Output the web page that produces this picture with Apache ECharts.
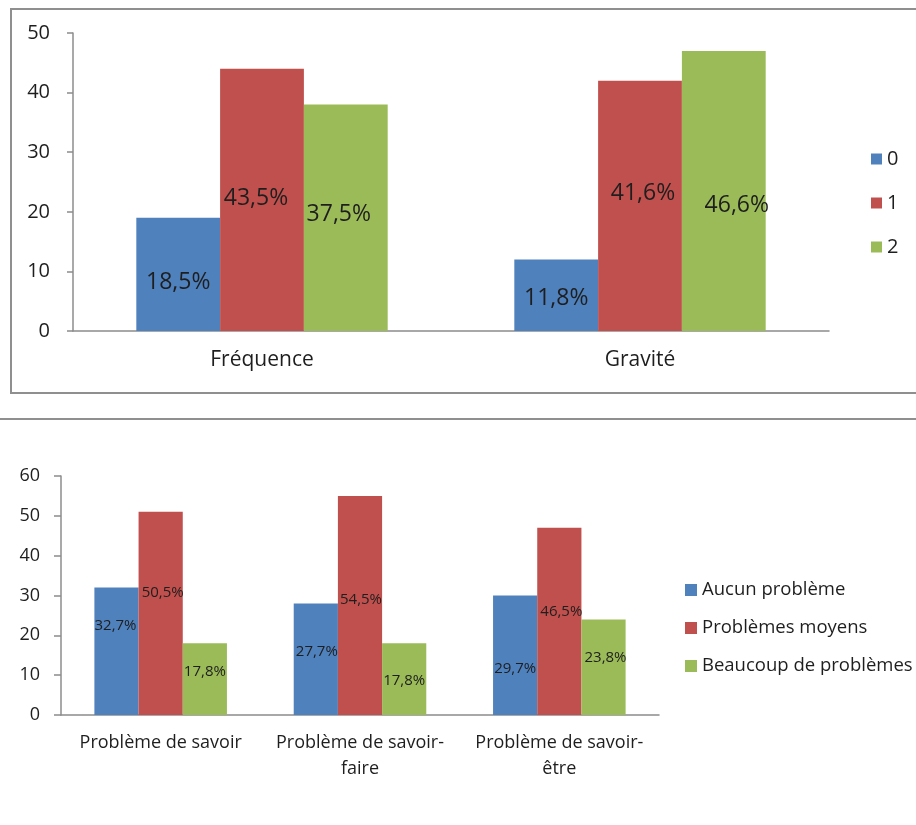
<!DOCTYPE html>
<html>
<head>
<meta charset="utf-8">
<script src="https://cdn.jsdelivr.net/npm/echarts@6/dist/echarts.min.js"></script>
<style>
html,body{margin:0;padding:0;background:#fff;}
#c{width:916px;height:825px;}
</style>
</head>
<body>
<div id="c"></div>
<script>
// ---- Top chart data ----
const topCategories = ['Fréquence', 'Gravité'];
const topSeriesNames = ['0', '1', '2'];
const topValues0 = [19, 12];
const topValues1 = [44, 42];
const topValues2 = [38, 47];
const topLabels0 = ['18,5%', '11,8%'];
const topLabels1 = ['43,5%', '41,6%'];
const topLabels2 = ['37,5%', '46,6%'];
const topYTicks = [0, 10, 20, 30, 40, 50];

// ---- Bottom chart data ----
const botCategories = ['Problème de savoir', 'Problème de savoir-faire', 'Problème de savoir-être'];
const botSeriesNames = ['Aucun problème', 'Problèmes moyens', 'Beaucoup de problèmes'];
const botValues0 = [32, 28, 30];
const botValues1 = [51, 55, 47];
const botValues2 = [18, 18, 24];
const botLabels0 = ['32,7%', '27,7%', '29,7%'];
const botLabels1 = ['50,5%', '54,5%', '46,5%'];
const botLabels2 = ['17,8%', '17,8%', '23,8%'];
const botYTicks = [0, 10, 20, 30, 40, 50, 60];

const colors = ['#4F81BD', '#C0504D', '#9BBB59'];
const FONT = '"Open Sans", "Noto Sans", sans-serif';
const AXIS = '#8c8c8c';

// label placement tweaks (style, not data)
const topOffsets = [
  [[0, 8], [0, 3]],
  [[-6, -1], [3, -12]],
  [[-7, -3], [13, 15]]
];
const botOffsets = [
  [[-1, -26], [1, -7], [0, 13]],
  [[2, -21], [1, -6], [2, -10]],
  [[0, -7], [0, 2], [2, -9]]
];

function makeSeries(names, valuesList, labelsList, offsets, xi, fontSize) {
  return names.map((n, si) => ({
    name: n,
    type: 'bar',
    xAxisIndex: xi,
    yAxisIndex: xi,
    barGap: '0%',
    barCategoryGap: '33.5%',
    itemStyle: { color: colors[si] },
    data: valuesList[si].map((v, i) => ({
      value: v,
      label: {
        show: true,
        position: 'inside',
        formatter: labelsList[si][i],
        offset: offsets[si][i],
        color: '#1e1e1e',
        fontSize: fontSize,
        fontFamily: FONT
      }
    }))
  }));
}

const chart = echarts.init(document.getElementById('c'), null, { renderer: 'canvas' });

const option = {
  animation: false,
  backgroundColor: '#ffffff',
  graphic: [
    {
      type: 'rect',
      shape: { x: 11, y: 9, width: 920, height: 384 },
      style: { fill: 'none', stroke: '#8f8f8f', lineWidth: 2 },
      silent: true
    },
    {
      type: 'line',
      shape: { x1: 0, y1: 419, x2: 916, y2: 419 },
      style: { stroke: '#8f8f8f', lineWidth: 2 },
      silent: true
    }
  ],
  grid: [
    { left: 73, top: 33, width: 756, height: 298 },
    { left: 61, top: 476, width: 598, height: 239 }
  ],
  legend: [
    {
      data: topSeriesNames,
      orient: 'vertical',
      left: 866,
      top: 143,
      itemWidth: 11,
      itemHeight: 11,
      itemGap: 22,
      icon: 'rect',
      textStyle: { fontSize: 20, lineHeight: 22, color: '#1e1e1e', fontFamily: FONT }
    },
    {
      data: botSeriesNames,
      orient: 'vertical',
      left: 680,
      top: 575,
      itemWidth: 12,
      itemHeight: 12,
      itemGap: 18,
      icon: 'rect',
      textStyle: { fontSize: 18.5, lineHeight: 20, color: '#1e1e1e', fontFamily: FONT }
    }
  ],
  xAxis: [
    {
      type: 'category',
      gridIndex: 0,
      data: topCategories,
      axisLine: { lineStyle: { color: AXIS, width: 1.5 } },
      axisTick: { length: 6, lineStyle: { color: AXIS, width: 1.5 } },
      axisLabel: { fontSize: 21, color: '#1e1e1e', fontFamily: FONT, margin: 19, interval: 0 }
    },
    {
      type: 'category',
      gridIndex: 1,
      data: botCategories,
      axisLine: { lineStyle: { color: AXIS, width: 1.5 } },
      axisTick: { length: 6, lineStyle: { color: AXIS, width: 1.5 } },
      axisLabel: {
        fontSize: 18, color: '#1e1e1e', fontFamily: FONT, margin: 15, lineHeight: 26,
        interval: 0, hideOverlap: false,
        formatter: v => v.replace('savoir-', 'savoir-\n')
      }
    }
  ],
  yAxis: [
    {
      type: 'value',
      gridIndex: 0,
      min: topYTicks[0],
      max: topYTicks[topYTicks.length - 1],
      interval: topYTicks[1] - topYTicks[0],
      splitLine: { show: false },
      axisLine: { show: true, lineStyle: { color: AXIS, width: 1.5 } },
      axisTick: { show: true, length: 6, lineStyle: { color: AXIS, width: 1.5 } },
      axisLabel: { fontSize: 20, color: '#1e1e1e', fontFamily: FONT, margin: 23 }
    },
    {
      type: 'value',
      gridIndex: 1,
      min: botYTicks[0],
      max: botYTicks[botYTicks.length - 1],
      interval: botYTicks[1] - botYTicks[0],
      splitLine: { show: false },
      axisLine: { show: true, lineStyle: { color: AXIS, width: 1.5 } },
      axisTick: { show: true, length: 7, lineStyle: { color: AXIS, width: 1.5 } },
      axisLabel: { fontSize: 18, color: '#1e1e1e', fontFamily: FONT, margin: 21 }
    }
  ],
  series: [
    ...makeSeries(topSeriesNames, [topValues0, topValues1, topValues2], [topLabels0, topLabels1, topLabels2], topOffsets, 0, 23),
    ...makeSeries(botSeriesNames, [botValues0, botValues1, botValues2], [botLabels0, botLabels1, botLabels2], botOffsets, 1, 15)
  ]
};

chart.setOption(option);
</script>
</body>
</html>
